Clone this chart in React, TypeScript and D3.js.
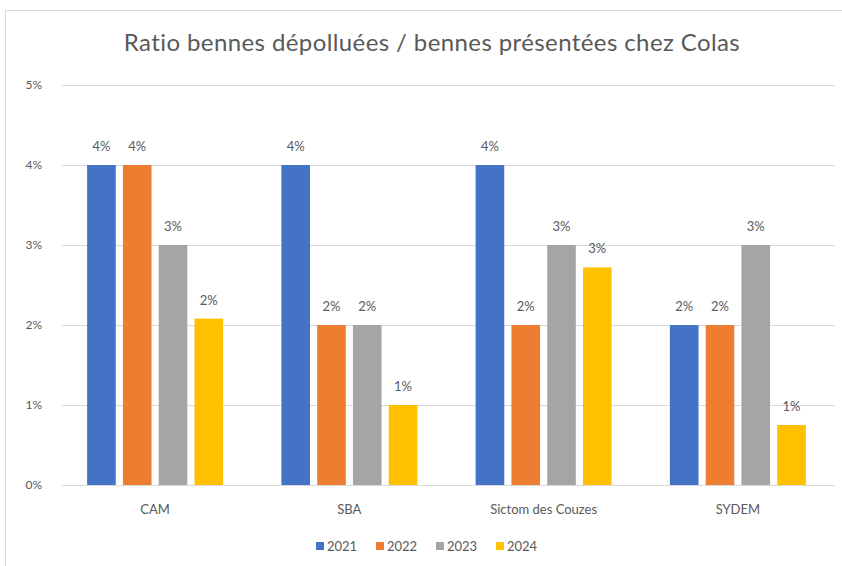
import { useEffect, useRef } from "react";
import * as d3 from "d3";

const categories = ["CAM", "SBA", "Sictom des Couzes", "SYDEM"];
const years = ["2021", "2022", "2023", "2024"];
const colors = ["#4472C4", "#ED7D31", "#A5A5A5", "#FFC000"];
// one array per year, in category order
const v2021 = [0.04, 0.04, 0.04, 0.02];
const v2022 = [0.04, 0.02, 0.02, 0.02];
const v2023 = [0.03, 0.02, 0.03, 0.03];
const v2024 = [0.0208, 0.01, 0.0272, 0.0075];
const yTicks = [0, 0.01, 0.02, 0.03, 0.04, 0.05];

export default function App() {
  const svgRef = useRef<SVGSVGElement>(null);

  useEffect(() => {
    const width = 842;
    const height = 566;
    const font = "Lato, 'Open Sans', sans-serif";
    const textColor = "#595959";
    const series = [v2021, v2022, v2023, v2024];

    const svg = d3.select(svgRef.current).attr("width", width).attr("height", height);
    svg.selectAll("*").remove();

    svg.append("rect").attr("width", width).attr("height", height).attr("fill", "#fff");
    svg
      .append("rect")
      .attr("x", 5.5)
      .attr("y", 10.5)
      .attr("width", width + 10)
      .attr("height", height + 10)
      .attr("fill", "none")
      .attr("stroke", "#d9d9d9");

    const x0 = d3.scaleBand().domain(categories).range([58, 835]).paddingInner(0.3).paddingOuter(0.15);
    const x1 = d3.scaleBand().domain(years).range([0, x0.bandwidth()]).paddingInner(0.2);
    const y = d3.scaleLinear().domain([0, 0.05]).range([485, 85]);
    const fmt = d3.format(".0%");

    // gridlines
    svg
      .append("g")
      .selectAll("line")
      .data(yTicks)
      .enter()
      .append("line")
      .attr("x1", 62)
      .attr("x2", 835)
      .attr("y1", (d) => y(d) + 0.5)
      .attr("y2", (d) => y(d) + 0.5)
      .attr("stroke", "#d9d9d9")
      .attr("stroke-width", 1);

    svg
      .append("g")
      .selectAll("text")
      .data(yTicks)
      .enter()
      .append("text")
      .attr("x", 42)
      .attr("y", (d) => y(d) + 4)
      .attr("text-anchor", "end")
      .attr("font-family", font)
      .attr("font-size", 12)
      .attr("fill", textColor)
      .text((d) => fmt(d));

    const groups = svg
      .append("g")
      .selectAll("g")
      .data(categories)
      .enter()
      .append("g")
      .attr("transform", (d) => `translate(${x0(d)},0)`);

    groups
      .selectAll("rect")
      .data((_, i) => series.map((s, k) => ({ year: years[k], value: s[i], color: colors[k] })))
      .enter()
      .append("rect")
      .attr("x", (d) => x1(d.year)!)
      .attr("y", (d) => y(d.value))
      .attr("width", x1.bandwidth())
      .attr("height", (d) => y(0) - y(d.value))
      .attr("fill", (d) => d.color);

    groups
      .selectAll("text")
      .data((_, i) => series.map((s, k) => ({ year: years[k], value: s[i] })))
      .enter()
      .append("text")
      .attr("x", (d) => x1(d.year)! + x1.bandwidth() / 2)
      .attr("y", (d) => y(d.value) - 14)
      .attr("text-anchor", "middle")
      .attr("font-family", font)
      .attr("font-size", 13)
      .attr("fill", textColor)
      .text((d) => fmt(d.value));

    svg
      .append("g")
      .selectAll("text")
      .data(categories)
      .enter()
      .append("text")
      .attr("x", (d) => x0(d)! + x0.bandwidth() / 2)
      .attr("y", 514)
      .attr("text-anchor", "middle")
      .attr("font-family", font)
      .attr("font-size", 13)
      .attr("fill", textColor)
      .text((d) => d);

    svg
      .append("text")
      .attr("x", 432)
      .attr("y", 51)
      .attr("text-anchor", "middle")
      .attr("font-family", font)
      .attr("font-size", 24)
      .attr("letter-spacing", 0.4)
      .attr("fill", textColor)
      .text("Ratio bennes dépolluées / bennes présentées chez Colas");

    const legend = svg
      .append("g")
      .selectAll("g")
      .data(years)
      .enter()
      .append("g")
      .attr("transform", (_, i) => `translate(${316 + i * 60},547)`);
    legend
      .append("rect")
      .attr("x", 0)
      .attr("y", -5)
      .attr("width", 8)
      .attr("height", 8)
      .attr("fill", (_, i) => colors[i]);
    legend
      .append("text")
      .attr("x", 11)
      .attr("y", 4)
      .attr("font-family", font)
      .attr("font-size", 13)
      .attr("fill", textColor)
      .text((d) => d);
  }, []);

  return <svg ref={svgRef} style={{ position: "absolute", left: 0, top: 0 }}></svg>;
}
